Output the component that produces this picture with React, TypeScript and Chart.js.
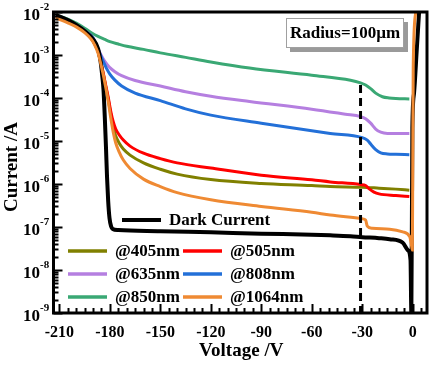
import React, { useEffect, useRef } from 'react';
import { Chart, registerables } from 'chart.js';

Chart.register(...registerables);

const FONT = '"Liberation Serif", "Times New Roman", serif';

// ---- data (Voltage in V, Current in A) ----
const darkV = [-212, -205, -200, -195, -190, -187, -185.5, -184.5, -183.8, -183, -182.3, -181.7, -181, -180.2, -179.3, -178.3, -175, -150, -120, -90, -60, -49, -37, -30, -20, -13.7, -5.9, -2.9, -1.3, -0.8, -0.2, 0.8, 2.4, 3.8];
const darkI = [8.5e-3, 6.5e-3, 5e-3, 3.6e-3, 2.3e-3, 1.4e-3, 7e-4, 3.2e-4, 1.6e-4, 3.5e-5, 7e-6, 1.5e-6, 4e-7, 1.6e-7, 1.05e-7, 9e-8, 8.5e-8, 8e-8, 7.5e-8, 7e-8, 6.6e-8, 6.4e-8, 6.1e-8, 5.8e-8, 5.5e-8, 5.2e-8, 4.3e-8, 2.9e-8, 1.7e-8, 1e-9, 2e-5, 1.3e-4, 1.3e-3, 1e-2];

const v405 = [-212, -205, -200, -195, -191, -189, -187, -185.5, -184, -182.5, -181, -179.5, -178, -176.5, -174.5, -172, -168, -160, -150, -140, -120, -90, -60, -49, -30, -20, -10, -2];
const i405 = [8e-3, 6.2e-3, 4.8e-3, 3.5e-3, 2.4e-3, 1.8e-3, 1.2e-3, 7e-4, 3.8e-4, 1.9e-4, 9.5e-5, 4.3e-5, 2.1e-5, 1.3e-5, 9e-6, 6.5e-6, 4.7e-6, 3.1e-6, 2.2e-6, 1.7e-6, 1.27e-6, 1.03e-6, 9.2e-7, 8.7e-7, 8.4e-7, 8e-7, 7.6e-7, 7.2e-7];

const v505 = [-212, -205, -200, -195, -191, -189, -187, -185.5, -184, -182.5, -181, -179.5, -178, -176.5, -174.5, -172, -168, -160, -150, -140, -120, -90, -60, -49, -31, -28, -26, -23, -20, -10, -2];
const i505 = [8e-3, 6.2e-3, 4.8e-3, 3.5e-3, 2.4e-3, 1.8e-3, 1.2e-3, 7e-4, 3.9e-4, 2e-4, 1.05e-4, 5e-5, 2.8e-5, 1.9e-5, 1.4e-5, 1.05e-5, 7.6e-6, 5.2e-6, 3.9e-6, 3.1e-6, 2.35e-6, 1.6e-6, 1.25e-6, 1.12e-6, 9.7e-7, 9.2e-7, 7.8e-7, 6.5e-7, 5.9e-7, 5.4e-7, 5.1e-7];

const v635 = [-212, -205, -200, -195, -190, -188, -186, -184, -182, -180, -177, -173, -165, -150, -135, -120, -97, -60, -40, -31, -28, -25, -22, -19, -15, -10, -2];
const i635 = [8.3e-3, 6.4e-3, 5e-3, 3.7e-3, 2.5e-3, 1.7e-3, 1.15e-3, 8.2e-4, 6.3e-4, 5.1e-4, 4.1e-4, 3.3e-4, 2.55e-4, 1.9e-4, 1.4e-4, 1.1e-4, 8.3e-5, 5.5e-5, 4.2e-5, 3.7e-5, 3.3e-5, 2.6e-5, 1.9e-5, 1.6e-5, 1.5e-5, 1.5e-5, 1.5e-5];

const v808 = [-212, -205, -200, -195, -190, -188, -186, -184, -182, -180, -177, -173, -165, -150, -135, -120, -90, -49, -30, -27, -25, -22, -19, -15, -10, -2];
const i808 = [8.3e-3, 6.4e-3, 5e-3, 3.7e-3, 2.5e-3, 1.7e-3, 1.1e-3, 7.2e-4, 4.9e-4, 3.6e-4, 2.6e-4, 1.9e-4, 1.3e-4, 8.7e-5, 5.6e-5, 4e-5, 2.6e-5, 1.5e-5, 1.2e-5, 1.05e-5, 8.5e-6, 6.3e-6, 5.3e-6, 5e-6, 4.9e-6, 4.8e-6];

const v850 = [-212, -205, -200, -195, -191, -187, -183, -180, -175, -170, -160, -150, -135, -120, -97, -60, -37, -31, -28, -25, -22, -18, -14, -10, -2];
const i850 = [8.5e-3, 6.8e-3, 5.5e-3, 4.2e-3, 3.3e-3, 2.7e-3, 2.3e-3, 2.05e-3, 1.8e-3, 1.6e-3, 1.35e-3, 1.12e-3, 8.8e-4, 6.9e-4, 5e-4, 3.4e-4, 2.6e-4, 2.25e-4, 2e-4, 1.65e-4, 1.3e-4, 1.07e-4, 1e-4, 9.7e-5, 9.5e-5];

const v1064 = [-212, -205, -200, -195, -191, -189, -187, -185.5, -184, -182.5, -181, -179.5, -178, -176.5, -174.5, -172, -168, -160, -150, -140, -120, -90, -60, -49, -30, -28, -27, -24, -13.7, -5.9, -1.8, -0.8, -0.2, 0, 0.3, 1.8];
const i1064 = [7.2e-3, 5.6e-3, 4.5e-3, 3.3e-3, 2.3e-3, 1.7e-3, 1.1e-3, 6.5e-4, 3.6e-4, 1.8e-4, 8.5e-5, 3.5e-5, 1.6e-5, 9e-6, 5.6e-6, 3.6e-6, 2.3e-6, 1.3e-6, 8.7e-7, 6.3e-7, 4.3e-7, 3e-7, 2.2e-7, 1.9e-7, 1.55e-7, 1.45e-7, 1.05e-7, 9.3e-8, 8.9e-8, 7.7e-8, 6e-8, 4e-8, 2.9e-8, 1e-6, 5.2e-4, 1e-2];

const markerV = [-31, -31];
const markerI = [2e-4, 1e-9];

const seriesNames = ['Dark Current', '@405nm', '@505nm', '@635nm', '@808nm', '@850nm', '@1064nm'];
const seriesColors = ['#000000', '#808000', '#ff0000', '#b57fe0', '#2370d8', '#3aa874', '#ef8a33'];

const xMin = -213.5;
const xMax = 8.5;
const yMin = 1e-9;
const yMax = 1e-2;
const xTickLabels = [-210, -180, -150, -120, -90, -60, -30, 0];
const yTickExponents = [-9, -8, -7, -6, -5, -4, -3, -2];
const xTitle = 'Voltage /V';
const yTitle = 'Current /A';
const noteText = 'Radius=100\u00b5m';

function pts(v: number[], c: number[]) {
  return v.map((x, k) => ({ x, y: c[k] }));
}

const overlay = {
  id: 'overlay',
  afterDatasetsDraw(chart: any) {
    const { ctx, chartArea: a, scales } = chart;
    const xs = scales.x;
    const ys = scales.y;
    ctx.save();
    ctx.strokeStyle = '#000';
    ctx.fillStyle = '#000';
    // x ticks (inward)
    ctx.lineWidth = 2;
    for (let v = -210; v <= 5; v += 5) {
      const px = Math.round(xs.getPixelForValue(v)) + 0.5;
      const len = v % 30 === 0 ? 9 : 5;
      ctx.beginPath();
      ctx.moveTo(px, a.bottom);
      ctx.lineTo(px, a.bottom - len);
      ctx.stroke();
    }
    // y ticks (inward)
    for (const d of yTickExponents) {
      for (let m = 1; m <= 9; m++) {
        const val = m * Math.pow(10, d);
        if (val > yMax * 1.0001) continue;
        const py = Math.round(ys.getPixelForValue(val)) + 0.5;
        const len = m === 1 ? 9 : 5;
        ctx.beginPath();
        ctx.moveTo(a.left, py);
        ctx.lineTo(a.left + len, py);
        ctx.stroke();
      }
    }
    // frame
    ctx.lineWidth = 3;
    ctx.strokeRect(a.left, a.top, a.right - a.left, a.bottom - a.top);

    // x tick labels
    ctx.font = `bold 16px ${FONT}`;
    ctx.textAlign = 'center';
    ctx.textBaseline = 'alphabetic';
    for (const v of xTickLabels) {
      ctx.fillText(String(v), xs.getPixelForValue(v), a.bottom + 24);
    }
    // y tick labels 10^n
    for (const d of yTickExponents) {
      const py = ys.getPixelForValue(Math.pow(10, d));
      ctx.font = `bold 17px ${FONT}`;
      ctx.textAlign = 'left';
      const baseW = ctx.measureText('10').width;
      const x0 = 23;
      ctx.fillText('10', x0, py + 8);
      ctx.font = `bold 11px ${FONT}`;
      ctx.fillText(String(d), x0 + baseW, py - 2);
    }
    // axis titles
    ctx.font = `bold 19px ${FONT}`;
    ctx.textAlign = 'center';
    ctx.textBaseline = 'middle';
    ctx.fillText(xTitle, (a.left + a.right) / 2 + 1, 351);
    ctx.save();
    ctx.translate(12, 167);
    ctx.rotate(-Math.PI / 2);
    ctx.fillText(yTitle, 0, 0);
    ctx.restore();

    // legend
    ctx.font = `bold 17px ${FONT}`;
    ctx.textAlign = 'left';
    ctx.textBaseline = 'middle';
    const drawEntry = (k: number, lx: number, ly: number) => {
      ctx.strokeStyle = seriesColors[k];
      ctx.lineWidth = k === 0 ? 4 : 3.5;
      ctx.beginPath();
      ctx.moveTo(lx, ly);
      ctx.lineTo(lx + 39, ly);
      ctx.stroke();
      ctx.fillText(seriesNames[k], lx + 47, ly + 1);
    };
    drawEntry(0, 122, 220);
    drawEntry(1, 68, 251);
    drawEntry(2, 183, 251);
    drawEntry(3, 68, 274);
    drawEntry(4, 183, 274);
    drawEntry(5, 68, 297);
    drawEntry(6, 183, 297);

    // note box
    const bx = 286, by = 18, bw = 118, bh = 30;
    ctx.fillStyle = '#9a9a9a';
    ctx.fillRect(bx + 4, by + 4, bw, bh);
    ctx.fillStyle = '#fff';
    ctx.fillRect(bx, by, bw, bh);
    ctx.strokeStyle = '#a0a0a0';
    ctx.lineWidth = 1;
    ctx.strokeRect(bx + 0.5, by + 0.5, bw - 1, bh - 1);
    ctx.fillStyle = '#000';
    ctx.font = `bold 17px ${FONT}`;
    ctx.textAlign = 'center';
    ctx.fillText(noteText, bx + bw / 2, by + bh / 2 + 1);
    ctx.restore();
  },
};

export default function App() {
  const ref = useRef<HTMLCanvasElement>(null);
  useEffect(() => {
    const canvas = ref.current;
    if (!canvas) return;
    const mk = (label: string, data: any[], color: string, width: number) => ({
      label,
      data,
      borderColor: color,
      backgroundColor: color,
      borderWidth: width,
      pointRadius: 0,
      fill: false,
      cubicInterpolationMode: 'monotone' as const,
    });
    const chart = new Chart(canvas, {
      type: 'line',
      data: {
        datasets: [
          {
            label: 'marker',
            data: pts(markerV, markerI),
            borderColor: '#000',
            borderWidth: 3,
            borderDash: [8, 5],
            pointRadius: 0,
            fill: false,
          },
          mk(seriesNames[6], pts(v1064, i1064), seriesColors[6], 3),
          mk(seriesNames[0], pts(darkV, darkI), seriesColors[0], 4),
          mk(seriesNames[2], pts(v505, i505), seriesColors[2], 3),
          mk(seriesNames[1], pts(v405, i405), seriesColors[1], 3),
          mk(seriesNames[4], pts(v808, i808), seriesColors[4], 3),
          mk(seriesNames[3], pts(v635, i635), seriesColors[3], 3),
          mk(seriesNames[5], pts(v850, i850), seriesColors[5], 3),
        ],
      },
      options: {
        animation: false,
        responsive: false,
        devicePixelRatio: 1,
        layout: { padding: { left: 53.5, top: 12, right: 7, bottom: 52 } },
        plugins: { legend: { display: false }, tooltip: { enabled: false } },
        scales: {
          x: { type: 'linear', min: xMin, max: xMax, display: false },
          y: { type: 'logarithmic', min: yMin, max: yMax, display: false },
        },
      },
      plugins: [overlay],
    });
    return () => chart.destroy();
  }, []);
  return (
    <div style={{ position: 'fixed', left: 0, top: 0, width: 434, height: 365, background: '#fff' }}>
      <canvas ref={ref} width={434} height={365} style={{ display: 'block' }} />
    </div>
  );
}
